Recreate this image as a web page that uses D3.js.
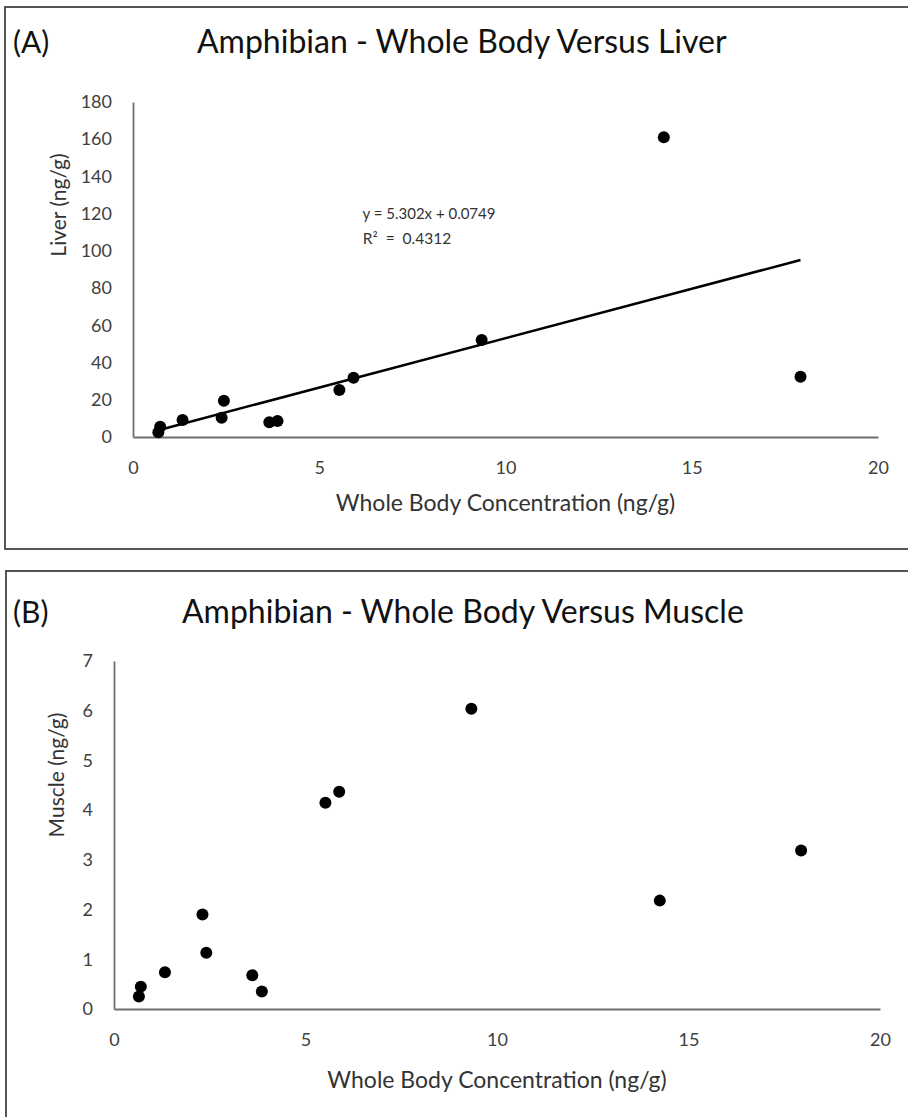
<!DOCTYPE html>
<html>
<head>
<meta charset="utf-8">
<script src="https://cdn.jsdelivr.net/npm/d3@7"></script>
<style>
	body { margin: 0; background: #fff; }
	text { font-family: Lato, "Open Sans", sans-serif; }
</style>
</head>
<body>
<script>
// panel A - whole body vs liver
var liverX = [0.68, 0.73, 1.33, 2.38, 2.44, 3.66, 3.88, 5.54, 5.92, 9.36, 14.25, 17.92];
var liverY = [2.5, 5.5, 9.1, 10.4, 19.5, 7.9, 8.6, 25.3, 31.8, 52.1, 161, 32.4];

// panel B - whole body vs muscle
var muscleX = [0.65, 0.70, 1.33, 2.31, 2.41, 3.61, 3.86, 5.52, 5.88, 9.33, 14.25, 17.94];
var muscleY = [0.25, 0.45, 0.74, 1.90, 1.13, 0.68, 0.35, 4.15, 4.37, 6.04, 2.18, 3.19];

var xTicks = [0, 5, 10, 15, 20];
var liverTicks = [0, 20, 40, 60, 80, 100, 120, 140, 160, 180];
var muscleTicks = [0, 1, 2, 3, 4, 5, 6, 7];

// linear trend shown on panel A
var trendSlope = 5.302;
var trendIntercept = 0.0749;
var trendLabel = "y = 5.302x + 0.0749";
var r2Label = "R² = 0.4312";

var svgWidth = 908, svgHeight = 1117;

var svg = d3.select("body").append("svg")
				.attr("width", svgWidth)
				.attr("height", svgHeight);

function drawPanel(p)
{
	var g = svg.append("g");

	// frame round the chart
	g.append("rect")
		.attr("x", p.box[0])
		.attr("y", p.box[1])
		.attr("width", p.box[2])
		.attr("height", p.box[3])
		.attr("fill", "none")
		.attr("stroke", "#2b2b2b")
		.attr("stroke-width", 1.6);

	g.append("text")
		.attr("x", 13)
		.attr("y", p.titleY)
		.attr("dy", "0.35em")
		.style("font-size", "30px")
		.attr("fill", "#111")
		.text(p.tag);

	g.append("text")
		.attr("x", p.titleX)
		.attr("y", p.titleY)
		.attr("dy", "0.35em")
		.style("font-size", "32px")
		.attr("fill", "#111")
		.text(p.title);

	var x = d3.scaleLinear().domain([0, 20]).range([p.left, p.right]);
	var y = d3.scaleLinear().domain([0, p.yMax]).range([p.bottom, p.top]);

	var xAxis = g.append("g")
					.attr("transform", "translate(0," + p.bottom + ")")
					.call(d3.axisBottom(x).tickValues(xTicks).tickSize(0).tickPadding(24).tickFormat(d3.format("d")));
	var yAxis = g.append("g")
					.attr("transform", "translate(" + p.left + ",0)")
					.call(d3.axisLeft(y).tickValues(p.yTicks).tickSize(0).tickPadding(21).tickFormat(d3.format("d")));

	[xAxis, yAxis].forEach(function(a) {
		a.select(".domain").attr("stroke", "#6e6e6e").attr("stroke-width", 1.8);
		a.selectAll("text")
			.style("font-size", "18px")
			.style("font-family", "Lato, sans-serif")
			.attr("fill", "#404040");
	});

	g.append("text")
		.attr("x", (p.left + p.right) / 2)
		.attr("y", p.xTitleY)
		.attr("dy", "0.35em")
		.attr("text-anchor", "middle")
		.style("font-size", "23px")
		.attr("fill", "#333")
		.text("Whole Body Concentration (ng/g)");

	g.append("text")
		.attr("transform", "translate(" + p.yTitleX + "," + p.yTitleY + ") rotate(-90)")
		.attr("dy", "0.35em")
		.attr("text-anchor", "middle")
		.style("font-size", "21px")
		.attr("fill", "#333")
		.text(p.yTitle);

	var pts = d3.zip(p.xs, p.ys);

	if (p.trend)
	{
		var x0 = d3.min(p.xs), x1 = d3.max(p.xs);
		g.append("line")
			.attr("x1", x(x0))
			.attr("y1", y(trendSlope * x0 + trendIntercept))
			.attr("x2", x(x1))
			.attr("y2", y(trendSlope * x1 + trendIntercept))
			.attr("stroke", "#000")
			.attr("stroke-width", 2.6);

		g.append("text")
			.attr("x", 429)
			.attr("y", 214)
			.attr("dy", "0.35em")
			.attr("text-anchor", "middle")
			.style("font-size", "15px")
			.attr("fill", "#333")
			.text(trendLabel);
		g.append("text")
			.attr("x", 407)
			.attr("y", 239)
			.attr("dy", "0.35em")
			.attr("text-anchor", "middle")
			.style("font-size", "15.5px")
			.style("word-spacing", "4px")
			.attr("fill", "#333")
			.text(r2Label);
	}

	g.selectAll("circle")
		.data(pts)
		.enter()
	  .append("circle")
		.attr("cx", function(d) { return x(d[0]); })
		.attr("cy", function(d) { return y(d[1]); })
		.attr("r", 6)
		.attr("fill", "#000");
}

drawPanel({
	box : [5, 7, 920, 542],
	tag : "(A)", title : "Amphibian - Whole Body Versus Liver",
	titleX : 197, titleY : 42,
	left : 133, right : 878, top : 102, bottom : 437,
	yMax : 180, yTicks : liverTicks,
	xTitleY : 503, yTitleX : 59, yTitleY : 205,
	yTitle : "Liver (ng/g)",
	xs : liverX, ys : liverY, trend : true
});

drawPanel({
	box : [6, 571, 920, 580],
	tag : "(B)", title : "Amphibian - Whole Body Versus Muscle",
	titleX : 182, titleY : 612,
	left : 114, right : 880, top : 661, bottom : 1009,
	yMax : 7, yTicks : muscleTicks,
	xTitleY : 1080, yTitleX : 57, yTitleY : 775,
	yTitle : "Muscle (ng/g)",
	xs : muscleX, ys : muscleY, trend : false
});
</script>
</body>
</html>
